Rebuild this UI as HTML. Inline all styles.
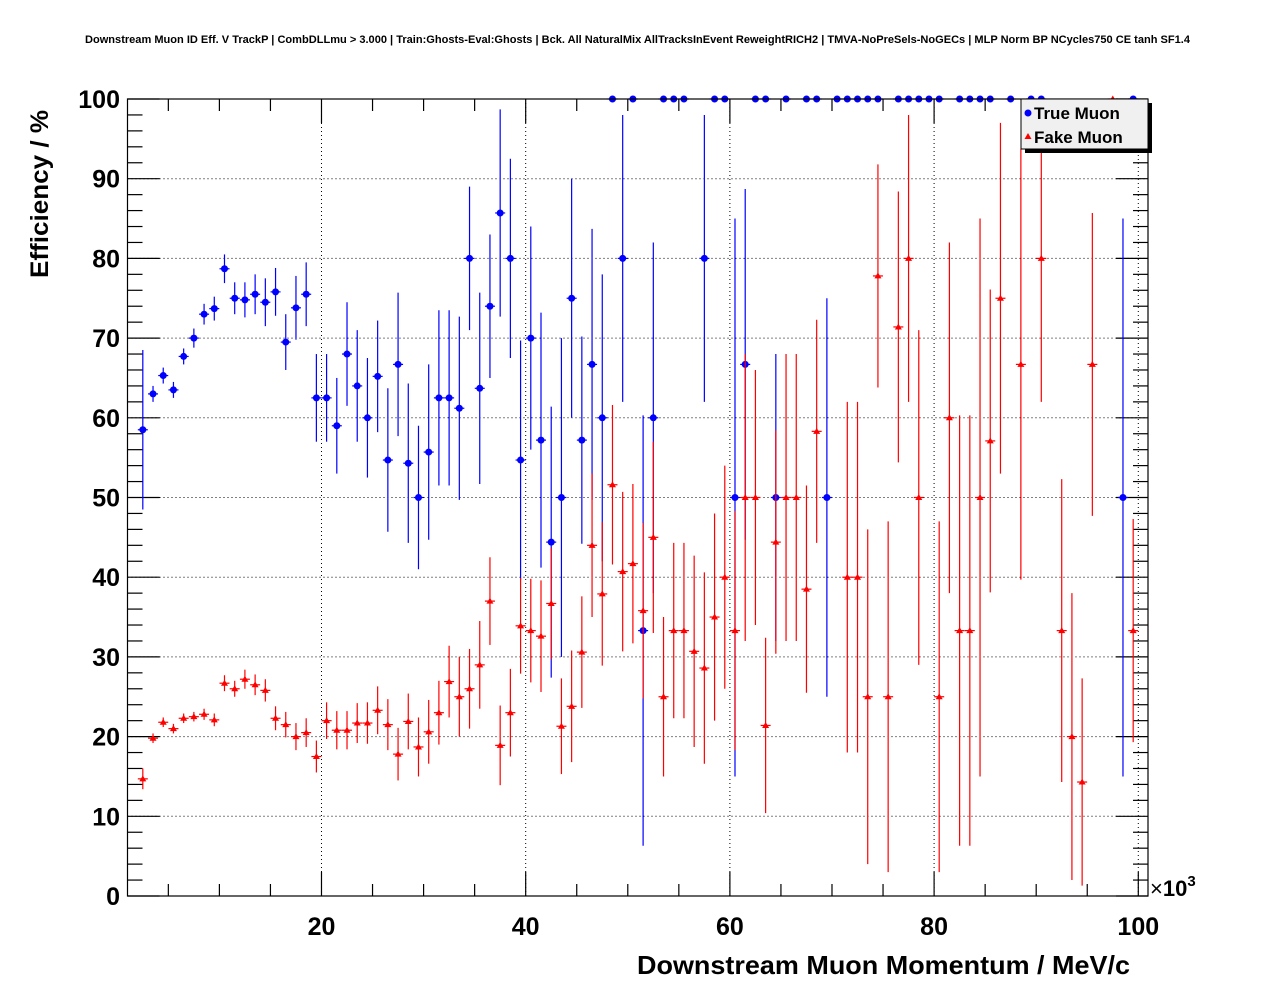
<!DOCTYPE html>
<html><head><meta charset="utf-8"><style>
body{margin:0;background:#fff;}
svg{display:block;font-family:"Liberation Sans",Arial,sans-serif;}
</style></head><body>
<svg id="chart" width="1276" height="996" viewBox="0 0 1276 996">
<rect width="1276" height="996" fill="#fff"/>
<text x="85" y="43" textLength="1105" lengthAdjust="spacingAndGlyphs" font-size="11" font-weight="bold">Downstream Muon ID Eff. V TrackP | CombDLLmu &gt; 3.000 | Train:Ghosts-Eval:Ghosts | Bck. All NaturalMix AllTracksInEvent ReweightRICH2 | TMVA-NoPreSels-NoGECs | MLP Norm BP NCycles750 CE tanh SF1.4</text>
<g id="grid"></g>
<g id="axes"></g>
<g id="series-true"></g>
<g id="series-fake"></g>
<rect x="127.5" y="99" width="1020.5" height="797" fill="none" stroke="#000" stroke-width="1.2"/>
<g>
<rect x="1025" y="103" width="127" height="50" fill="#000"/>
<rect x="1021" y="99" width="127" height="50" fill="#f0f0f0" stroke="#000" stroke-width="1"/>
<circle cx="1028" cy="113" r="3.5" fill="#0000ff"/>
<text x="1034" y="119" font-size="17" font-weight="bold">True Muon</text>
<polygon points="1024.5,139 1031.5,139 1028,133" fill="#ff0000"/>
<text x="1034" y="143" font-size="17" font-weight="bold">Fake Muon</text>
</g>
<text x="48" y="194" transform="rotate(-90 48 194)" text-anchor="middle" textLength="168" lengthAdjust="spacingAndGlyphs" font-size="25" font-weight="bold">Efficiency / %</text>
<text x="637" y="974" textLength="493" lengthAdjust="spacingAndGlyphs" font-size="26" font-weight="bold">Downstream Muon Momentum / MeV/c</text>
<text x="1150" y="896" font-size="22">×<tspan font-weight="bold">10</tspan><tspan font-size="15" dy="-10" font-weight="bold">3</tspan></text>
</svg>
<script>
const xTicks=[20,40,60,80,100];
const yTicks=[0,10,20,30,40,50,60,70,80,90,100];
const binStart=2.5;
const trueVal=[58.5,63,65.3,63.5,67.7,70,73,73.7,78.7,75,74.8,75.5,74.5,75.8,69.5,73.8,75.5,62.5,62.5,59,68,64,60,65.2,54.7,66.7,54.3,50,55.7,62.5,62.5,61.2,80,63.7,74,85.7,80,54.7,70,57.2,44.4,50,75,57.2,66.7,60,100,80,100,33.3,60,100,100,100,null,80,100,100,50,66.7,100,100,50,100,null,100,100,50,100,100,100,100,100,null,100,100,100,100,100,null,100,100,100,100,null,100,null,100,100,null,null,null,null,null,null,null,50,100];
const trueErr=[10,1,1,1,1,1.2,1.3,1.5,1.8,2,2.2,2.5,3,3,3.5,4,4,5.5,5.5,6,6.5,7,7.5,7,9,9,10,9,11,11,11,11.5,9,12,9,13,12.5,15,14,16,17,20,15,13,17,18,0,18,0,27,22,0,0,0,0,18,0,0,35,22,0,0,18,0,0,0,0,25,0,0,0,0,0,0,0,0,0,0,0,0,0,0,0,0,0,0,0,0,0,0,0,0,0,0,0,0,35,0];
const fakeVal=[14.7,19.8,21.8,21,22.3,22.5,22.8,22.1,26.7,26,27.2,26.5,25.8,22.3,21.5,20,20.5,17.5,22,20.8,20.8,21.7,21.7,23.3,21.5,17.8,21.9,18.7,20.6,23,26.9,25,26,29,37,18.9,23,33.9,33.3,32.6,36.7,21.3,23.8,30.6,44,37.9,51.6,40.7,41.7,35.8,45,25,33.3,33.3,30.7,28.6,35,40,33.3,50,50,21.4,44.4,50,50,38.5,58.3,null,null,40,40,25,77.8,25,71.4,80,50,null,25,60,33.3,33.3,50,57.1,75,null,66.7,null,80,null,33.3,20,14.3,66.7,null,100,null,33.3];
const fakeErr=[1.3,0.6,0.6,0.6,0.6,0.6,0.7,0.8,1,1,1.2,1.3,1.4,1.5,1.6,1.7,1.8,2,2.3,2.4,2.4,2.5,2.6,3,3.2,3.3,3.5,3.7,4,4,4.5,5,5,5.5,5.5,5,5.5,6,6.5,7,7,6,7,7,9,9,10,10,10,11,12,10,11,11,12,12,13,14,15,18,16,11,14,18,18,13,14,0,0,22,22,21,14,22,17,18,21,0,22,22,27,27,35,19,22,0,27,0,18,0,19,18,13,19,0,0,0,14];

const X0=127.5,XS=10.21,XMIN=1;
const Y0=896,YS=7.97;
function xp(v){return X0+(v-XMIN)*XS;}
function yp(v){return Y0-v*YS;}
const NS='http://www.w3.org/2000/svg';
function mk(tag,attrs,parent){const e=document.createElementNS(NS,tag);for(const k in attrs)e.setAttribute(k,attrs[k]);parent.appendChild(e);return e;}
const grid=document.getElementById('grid'),axes=document.getElementById('axes');
xTicks.forEach(t=>{const l=mk('line',{x1:xp(t),x2:xp(t),y1:99,y2:896,stroke:'#000','stroke-width':1,'stroke-dasharray':'1,3'},grid);

});
yTicks.forEach(t=>{if(t===0||t===100)return;const l=mk('line',{x1:127.5,x2:1148,y1:yp(t),y2:yp(t),stroke:'#000','stroke-width':1,'stroke-dasharray':'1,3'},grid);

});
for(let v=5;v<=100;v+=5){const major=v%20===0;const L=major?24:12;
mk('line',{x1:xp(v),x2:xp(v),y1:896,y2:896-L,stroke:'#000','stroke-width':1.2},axes);
mk('line',{x1:xp(v),x2:xp(v),y1:99,y2:99+L,stroke:'#000','stroke-width':1.2},axes);}
xTicks.forEach(t=>{const tx=mk('text',{x:xp(t),y:935,'text-anchor':'middle','font-size':25,'font-weight':'bold'},axes);tx.textContent=t;

});
for(let v=0;v<=100;v+=2){const major=v%10===0;const L=major?32:15;
mk('line',{x1:127.5,x2:127.5+L,y1:yp(v),y2:yp(v),stroke:'#000','stroke-width':1.2},axes);
mk('line',{x1:1148,x2:1148-L,y1:yp(v),y2:yp(v),stroke:'#000','stroke-width':1.2},axes);}
yTicks.forEach(t=>{const tx=mk('text',{x:120,y:yp(t)+9,'text-anchor':'end','font-size':25,'font-weight':'bold'},axes);tx.textContent=t;

});
function draw(vals,errs,color,group,shape,name){
vals.forEach((v,i)=>{if(v===null)return;const c=binStart+i;const x=xp(c),y=yp(v);
const g=mk('g',{},group);


const e=errs[i]||0;
const hi=Math.min(100,v+e),lo=Math.max(0,v-e);
if(e>0)mk('line',{x1:x,x2:x,y1:yp(hi),y2:yp(lo),stroke:color,'stroke-width':1.2},g);
mk('line',{x1:x-5,x2:x+5,y1:y,y2:y,stroke:color,'stroke-width':1.2},g);
if(shape==='circle')mk('circle',{cx:x,cy:y,r:3.5,fill:color},g);
else mk('polygon',{points:`${x-3.5},${y+2.5} ${x+3.5},${y+2.5} ${x},${y-3.5}`,fill:color},g);
});}
draw(trueVal,trueErr,'#0000ff',document.getElementById('series-true'),'circle','true-muon');
draw(fakeVal,fakeErr,'#ff0000',document.getElementById('series-fake'),'tri','fake-muon');
</script>
</body></html>
